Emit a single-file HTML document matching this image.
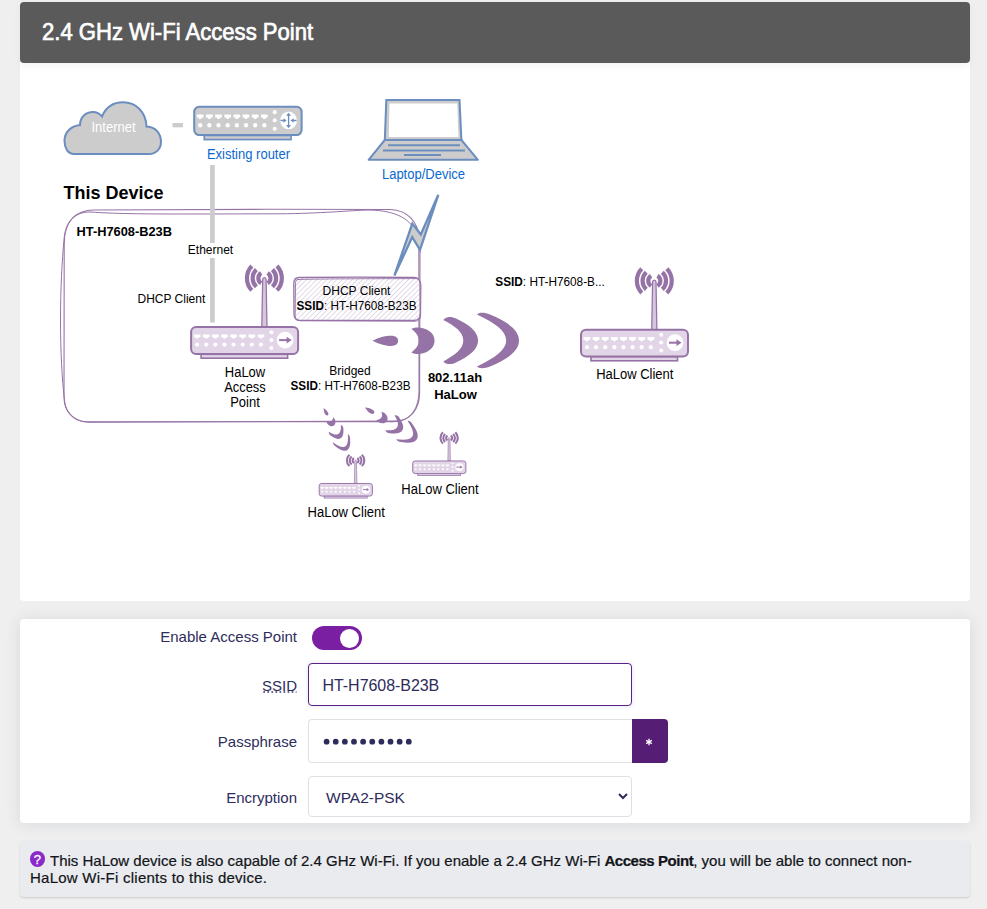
<!DOCTYPE html>
<html><head><meta charset="utf-8">
<style>
html,body{margin:0;padding:0;}
body{width:987px;height:909px;overflow:hidden;background:#efefef;font-family:"Liberation Sans",sans-serif;position:relative;}
.card{position:absolute;left:20px;width:950px;background:#fff;border-radius:4px;}
#c1{top:2px;height:599px;}
#hdr{position:absolute;left:0;top:0;width:950px;height:61px;background:#5a5a5a;border-radius:4px;box-shadow:0 3px 9px rgba(0,0,0,.05);}
#hdr span{position:absolute;left:22px;top:16px;font-size:24px;font-weight:normal;-webkit-text-stroke:0.7px #fff;color:#fff;white-space:nowrap;transform:scaleX(0.92);transform-origin:0 0;}
#c2{top:619px;height:204px;box-shadow:0 1px 16px rgba(40,50,90,.11);}
.lbl{position:absolute;right:673px;font-size:15px;color:#2d2c5b;white-space:nowrap;}
.inp{position:absolute;left:288px;width:324px;background:#fff;border:1px solid #dde1e6;border-radius:4px;box-sizing:border-box;}
.val{position:absolute;font-size:15px;color:#2d2c5b;white-space:nowrap;}
#info{position:absolute;left:20px;top:841px;width:950px;height:56px;background:#e9ebee;border-radius:4px;box-shadow:0 1px 2px rgba(0,0,0,.15);}
#info p{margin:0;position:absolute;left:10px;top:10.7px;width:930px;white-space:nowrap;font-size:15px;line-height:17.7px;color:#121419;text-indent:20px;-webkit-text-stroke:0.2px #121419;}
#info b{letter-spacing:-0.45px;}
#q{position:absolute;left:9.6px;top:10px;width:15.5px;height:16px;border-radius:50%;background:#8a2bc9;color:#fff;font-size:13px;font-weight:normal;-webkit-text-stroke:0.3px #fff;text-align:center;line-height:17px;}
svg text{font-family:"Liberation Sans",sans-serif;}
</style></head><body>
<div class="card" id="c1"><div id="hdr"><span>2.4 GHz Wi-Fi Access Point</span></div></div>

<div class="card" id="c2">
  <div class="lbl" style="top:9px">Enable Access Point</div>
  <div style="position:absolute;left:292px;top:7px;width:50px;height:24px;border-radius:12px;background:#7a1fa2;"></div>
  <div style="position:absolute;left:319.5px;top:9.5px;width:19px;height:19px;border-radius:50%;background:#fff;"></div>

  <div class="lbl" style="top:58px;">SSID</div>
  <svg style="position:absolute;left:243px;top:71px" width="36" height="4"><path d="M0.3,2H33.5" stroke="#3a3966" stroke-width="1.7" stroke-dasharray="1.7 2.35"/></svg>
  <div class="inp" style="top:44px;height:43px;border:1.5px solid #5b2184;box-shadow:0 0 4px rgba(120,130,220,.25);"></div>
  <div class="val" style="left:302.5px;top:57.5px;font-size:16px;letter-spacing:-0.05px;">HT-H7608-B23B</div>

  <div class="lbl" style="top:114px">Passphrase</div>
  <div class="inp" style="top:100px;height:44px;width:325px;border-radius:4px 0 0 4px;border-right:none;"></div>
  <div style="position:absolute;left:612px;top:100px;width:36px;height:44px;background:#561d75;border-radius:0 4px 4px 0;"><svg style="position:absolute;left:13px;top:19.2px" width="8" height="8"><path d="M4,0.8V7.2M1.2,2.4L6.8,5.6M1.2,5.6L6.8,2.4" stroke="#fff" stroke-width="1.3"/></svg></div>
  <svg style="position:absolute;left:300px;top:115px" width="100" height="16"><circle cx="6.60" cy="7.7" r="2.9" fill="#2d2c5b"/><circle cx="15.73" cy="7.7" r="2.9" fill="#2d2c5b"/><circle cx="24.86" cy="7.7" r="2.9" fill="#2d2c5b"/><circle cx="33.99" cy="7.7" r="2.9" fill="#2d2c5b"/><circle cx="43.12" cy="7.7" r="2.9" fill="#2d2c5b"/><circle cx="52.25" cy="7.7" r="2.9" fill="#2d2c5b"/><circle cx="61.38" cy="7.7" r="2.9" fill="#2d2c5b"/><circle cx="70.51" cy="7.7" r="2.9" fill="#2d2c5b"/><circle cx="79.64" cy="7.7" r="2.9" fill="#2d2c5b"/><circle cx="88.77" cy="7.7" r="2.9" fill="#2d2c5b"/></svg>

  <div class="lbl" style="top:170px">Encryption</div>
  <div class="inp" style="top:157px;height:41px;"></div>
  <div class="val" style="left:306px;top:169.5px;font-size:15.5px;">WPA2-PSK</div>
  <svg style="position:absolute;left:597px;top:171.5px" width="12" height="10"><path d="M2,3 L6,7 L10,3" fill="none" stroke="#2d2c5b" stroke-width="2"/></svg>
</div>

<div id="info"><span id="q">?</span><p>This HaLow device is also capable of 2.4 GHz Wi-Fi. If you enable a 2.4 GHz Wi-Fi <b>Access Point</b>, you will be able to connect non-<br><span style="letter-spacing:0.25px">HaLow Wi-Fi clients to this device.</span></p></div>

<!-- DIAGRAM -->
<svg id="dg" style="position:absolute;left:0;top:0" width="987" height="600" viewBox="0 0 987 600">
<path d="M74,154 C68,154 64.5,148 64.5,141 C64.5,132 71,126 80,125 C80,117 86,112 93,112 C97,112 100,114 102,116.5 C106,107 114,102.3 123,102.3 C136,102.3 146,112 146.5,126.5 C156,127 161,134 161,142 C161,149 156,154 149,154 Z" fill="#cccccc" stroke="#6c8ebf" stroke-width="2"/><text x="113.5" y="132" font-size="14" fill="#fff" text-anchor="middle" textLength="44.1" lengthAdjust="spacingAndGlyphs">Internet</text><rect x="172.5" y="123" width="10.5" height="4.3" fill="#cccccc"/><g transform="translate(193.2,105.7) scale(1.004,1.055)"><rect x="1" y="1" width="107" height="26.8" rx="5" fill="#cccccc" stroke="#6c8ebf" stroke-width="2"/><rect x="11" y="28.2" width="86.5" height="3.9" fill="#cccccc" stroke="#6c8ebf" stroke-width="1.6"/><path d="M3.60,8.3h6.7v2.9h-1.7l-0.6,1.3h-2.1l-0.6,-1.3h-1.7z" fill="#fff"/><circle cx="6.95" cy="18.5" r="2.1" fill="#fff"/><path d="M12.73,8.3h6.7v2.9h-1.7l-0.6,1.3h-2.1l-0.6,-1.3h-1.7z" fill="#fff"/><circle cx="16.08" cy="18.5" r="2.1" fill="#fff"/><path d="M21.86,8.3h6.7v2.9h-1.7l-0.6,1.3h-2.1l-0.6,-1.3h-1.7z" fill="#fff"/><circle cx="25.21" cy="18.5" r="2.1" fill="#fff"/><path d="M30.99,8.3h6.7v2.9h-1.7l-0.6,1.3h-2.1l-0.6,-1.3h-1.7z" fill="#fff"/><circle cx="34.34" cy="18.5" r="2.1" fill="#fff"/><path d="M40.12,8.3h6.7v2.9h-1.7l-0.6,1.3h-2.1l-0.6,-1.3h-1.7z" fill="#fff"/><circle cx="43.47" cy="18.5" r="2.1" fill="#fff"/><path d="M49.25,8.3h6.7v2.9h-1.7l-0.6,1.3h-2.1l-0.6,-1.3h-1.7z" fill="#fff"/><circle cx="52.60" cy="18.5" r="2.1" fill="#fff"/><path d="M58.38,8.3h6.7v2.9h-1.7l-0.6,1.3h-2.1l-0.6,-1.3h-1.7z" fill="#fff"/><circle cx="61.73" cy="18.5" r="2.1" fill="#fff"/><path d="M67.51,8.3h6.7v2.9h-1.7l-0.6,1.3h-2.1l-0.6,-1.3h-1.7z" fill="#fff"/><circle cx="70.86" cy="18.5" r="2.1" fill="#fff"/><circle cx="81.2" cy="6.1" r="2" fill="#fff"/><circle cx="81.2" cy="13.9" r="2" fill="#fff"/><circle cx="81.2" cy="21.9" r="2" fill="#fff"/><circle cx="95" cy="14" r="8.4" fill="#fff"/><path d="M95,8.5V19.5" stroke="#6c8ebf" stroke-width="1.3"/><path d="M92.6,9.6L95,6.6L97.4,9.6zM92.6,18.4L95,21.4L97.4,18.4z" fill="#6c8ebf"/><path d="M87,14H91M99,14H103" stroke="#6c8ebf" stroke-width="1.3"/><path d="M90,11.8L93,14L90,16.2zM100,11.8L97,14L100,16.2z" fill="#6c8ebf"/></g><text x="248.5" y="158.7" font-size="14" fill="#0b68cf" text-anchor="middle" textLength="83.1" lengthAdjust="spacingAndGlyphs">Existing router</text><path d="M386.3,100H459.5L461.4,140H384.8Z" fill="#cccccc" stroke="#6c8ebf" stroke-width="2"/><path d="M389.5,103.5H457.3L458.5,137H388.8Z" fill="#fff"/><path d="M384.8,140H461.4L477.9,159.8H368.6Z" fill="#cccccc" stroke="#6c8ebf" stroke-width="2" stroke-linejoin="round"/><path d="M388,145.3H460M383,150.6H465M404,155H441" stroke="#6c8ebf" stroke-width="2"/><text x="423.5" y="178.6" font-size="14" fill="#0b68cf" text-anchor="middle" textLength="83.1" lengthAdjust="spacingAndGlyphs">Laptop/Device</text><text x="210.5" y="253.8" font-size="12" fill="#000" text-anchor="middle">Ethernet</text><text x="63.5" y="198.5" font-size="18" font-weight="bold" fill="#000">This Device</text><path d="M94,210 C150,209.5 300,209 390,209.5 C408,210 418,222 420,240 L419.6,392 C419.6,410 410,421.5 394,421.6 L87,421.8 C72,421.5 64,410 64,397 L64.2,244 C64.2,222 75,210 94,210Z" fill="none" stroke="#9673a6" stroke-width="1.1"/><path d="M90,212 C120,214 150,214 200,214 L280,213.8 C320,213.5 350,210.5 369,210 C395,210.5 412,218 418.8,238 L419,390 C419,408 411,420.5 396,421 L89,422.3 C74,422 65,412 64.5,400 C62,380 60.5,350 60.5,320 C60.5,290 62,260 64,240 C65,222 74,212 90,212Z" fill="none" stroke="#9673a6" stroke-width="1"/><path d="M212.4,165V243M212.4,258V322.6" stroke="#cccccc" stroke-width="4.7"/><text x="76.5" y="235.6" font-size="13.6" font-weight="bold" fill="#000" textLength="95.5" lengthAdjust="spacingAndGlyphs">HT-H7608-B23B</text><text x="137.5" y="302.5" font-size="12" fill="#000">DHCP Client</text><defs><pattern id="hatch" patternUnits="userSpaceOnUse" width="3.6" height="3.6" patternTransform="rotate(45)"><rect width="3.6" height="3.6" fill="#fff"/><path d="M0.5,0V3.6" stroke="#e0d5e6" stroke-width="0.9"/></pattern></defs><path d="M299,277.5 C340,277 390,277.2 414,277.5 C419,277.8 420,280 420,284 L420.2,314 C420,319 418,320.5 414,320.4 L300,320.4 C296,320.5 294,318 294,314 L293.8,283 C294,279 296,277.5 299,277.5Z" fill="url(#hatch)" stroke="#9673a6" stroke-width="1.3"/><path d="M297,279.5 C340,278.5 390,278.8 416,278.6 C419.5,279 421,282 421,286 L420.6,316 C420.5,319.5 418,321.5 414,321.3 L300,320.8 C296.5,320.6 295,318 295.2,314 L295.5,284 C295.5,281 296,279.5 299,279.5" fill="none" stroke="#9673a6" stroke-width="0.9"/><text x="356.5" y="294.5" font-size="12" fill="#000" text-anchor="middle">DHCP Client</text><text x="296.5" y="309.8" font-size="12" fill="#000" textLength="120" lengthAdjust="spacingAndGlyphs"><tspan font-weight="bold">SSID</tspan>: HT-H7608-B23B</text><path d="M438.3,194.8L420,249.8L412.2,237.2L394.4,275.6L412.3,223.6L420.8,234.5Z" fill="#cccccc" stroke="#6c8ebf" stroke-width="2.3" stroke-linejoin="miter"/><g transform="translate(190.1,326.1)"><path d="M72.6,-46.6C72.6,-49.2 76,-49.2 76,-46.6L76.9,0.8H71.7Z" fill="#d6c6de" stroke="#9673a6" stroke-width="1.25"/><path d="M61.75,-60.02A17.45,17.45 0 0 0 61.75,-35.78" fill="none" stroke="#9673a6" stroke-width="4.2"/><path d="M86.85,-60.02A17.45,17.45 0 0 1 86.85,-35.78" fill="none" stroke="#9673a6" stroke-width="4.2"/><path d="M66.29,-56.49A11.75,11.75 0 0 0 66.29,-39.31" fill="none" stroke="#9673a6" stroke-width="4.2"/><path d="M82.31,-56.49A11.75,11.75 0 0 1 82.31,-39.31" fill="none" stroke="#9673a6" stroke-width="4.2"/><path d="M71.09,-53.03A6.05,6.05 0 0 0 71.09,-42.77" fill="none" stroke="#9673a6" stroke-width="4.2"/><path d="M77.51,-53.03A6.05,6.05 0 0 1 77.51,-42.77" fill="none" stroke="#9673a6" stroke-width="4.2"/><rect x="1" y="1" width="107" height="26.8" rx="5" fill="#e1d5e7" stroke="#9673a6" stroke-width="2"/><rect x="11" y="28.2" width="86.5" height="3.9" fill="#e1d5e7" stroke="#9673a6" stroke-width="1.6"/><path d="M3.60,8.3h6.7v2.9h-1.7l-0.6,1.3h-2.1l-0.6,-1.3h-1.7z" fill="#fff"/><circle cx="6.95" cy="18.5" r="2.1" fill="#fff"/><path d="M12.73,8.3h6.7v2.9h-1.7l-0.6,1.3h-2.1l-0.6,-1.3h-1.7z" fill="#fff"/><circle cx="16.08" cy="18.5" r="2.1" fill="#fff"/><path d="M21.86,8.3h6.7v2.9h-1.7l-0.6,1.3h-2.1l-0.6,-1.3h-1.7z" fill="#fff"/><circle cx="25.21" cy="18.5" r="2.1" fill="#fff"/><path d="M30.99,8.3h6.7v2.9h-1.7l-0.6,1.3h-2.1l-0.6,-1.3h-1.7z" fill="#fff"/><circle cx="34.34" cy="18.5" r="2.1" fill="#fff"/><path d="M40.12,8.3h6.7v2.9h-1.7l-0.6,1.3h-2.1l-0.6,-1.3h-1.7z" fill="#fff"/><circle cx="43.47" cy="18.5" r="2.1" fill="#fff"/><path d="M49.25,8.3h6.7v2.9h-1.7l-0.6,1.3h-2.1l-0.6,-1.3h-1.7z" fill="#fff"/><circle cx="52.60" cy="18.5" r="2.1" fill="#fff"/><path d="M58.38,8.3h6.7v2.9h-1.7l-0.6,1.3h-2.1l-0.6,-1.3h-1.7z" fill="#fff"/><circle cx="61.73" cy="18.5" r="2.1" fill="#fff"/><path d="M67.51,8.3h6.7v2.9h-1.7l-0.6,1.3h-2.1l-0.6,-1.3h-1.7z" fill="#fff"/><circle cx="70.86" cy="18.5" r="2.1" fill="#fff"/><circle cx="81.2" cy="6.1" r="2" fill="#fff"/><circle cx="81.2" cy="13.9" r="2" fill="#fff"/><circle cx="81.2" cy="21.9" r="2" fill="#fff"/><circle cx="95" cy="14" r="8.4" fill="#fff"/><path d="M89,14H97.5" stroke="#9673a6" stroke-width="2"/><path d="M96.5,10.6L101.5,14L96.5,17.4z" fill="#9673a6"/></g><text font-size="14" fill="#000" text-anchor="middle"><tspan x="245" y="376.5" textLength="40.5" lengthAdjust="spacingAndGlyphs">HaLow</tspan><tspan x="245" y="391.8" textLength="41.5" lengthAdjust="spacingAndGlyphs">Access</tspan><tspan x="245" y="407.2" textLength="29.6" lengthAdjust="spacingAndGlyphs">Point</tspan></text><text x="350" y="374.6" font-size="12" fill="#000" text-anchor="middle">Bridged</text><text x="290.5" y="389.8" font-size="12" fill="#000" textLength="120" lengthAdjust="spacingAndGlyphs"><tspan font-weight="bold">SSID</tspan>: HT-H7608-B23B</text><g transform="translate(372.5,340.7)"><g transform="translate(-372.5,-340.7)" fill="#9673a6"><path d="M372.5,340.7C380,337 386,335.8 391,335.8C396,335.8 398.1,338 398.1,340.7C398.1,343.5 396,345.9 391,345.9C386,345.9 380,344.5 372.5,340.7Z"/><path d="M411.4,328.9C420,325 434.6,330 434.6,340.7C434.6,351 420,357 411.4,352.4C417,348 418.9,344 418.9,340.7C418.9,337 417,333 411.4,328.9Z"/><path d="M443.3,320C446,316 452,316.5 456,318.5C470,325 478.1,332 478.1,340.6C478.1,349 470,356 456,362.5C452,364.5 446,365 443.3,361.5C455,355 463.3,349 463.3,340.6C463.3,332 455,326 443.3,320Z"/><path d="M477,314.6C479,312 485,312.5 490,314.5C508,322 519,330 519,340.6C519,351 508,359 490,366.5C485,368.5 479,369 477,366.5C495,358 506.2,350 506.2,340.6C506.2,331 495,323 477,314.6Z"/></g></g><text font-size="13" font-weight="bold" fill="#000" text-anchor="middle"><tspan x="455" y="382">802.11ah</tspan><tspan x="455.5" y="398.6">HaLow</tspan></text><text x="495.3" y="286" font-size="12" fill="#000" textLength="109.5" lengthAdjust="spacingAndGlyphs"><tspan font-weight="bold">SSID</tspan>: HT-H7608-B...</text><g transform="translate(580,328.7)"><path d="M72.6,-46.6C72.6,-49.2 76,-49.2 76,-46.6L76.9,0.8H71.7Z" fill="#d6c6de" stroke="#9673a6" stroke-width="1.25"/><path d="M61.75,-60.02A17.45,17.45 0 0 0 61.75,-35.78" fill="none" stroke="#9673a6" stroke-width="4.2"/><path d="M86.85,-60.02A17.45,17.45 0 0 1 86.85,-35.78" fill="none" stroke="#9673a6" stroke-width="4.2"/><path d="M66.29,-56.49A11.75,11.75 0 0 0 66.29,-39.31" fill="none" stroke="#9673a6" stroke-width="4.2"/><path d="M82.31,-56.49A11.75,11.75 0 0 1 82.31,-39.31" fill="none" stroke="#9673a6" stroke-width="4.2"/><path d="M71.09,-53.03A6.05,6.05 0 0 0 71.09,-42.77" fill="none" stroke="#9673a6" stroke-width="4.2"/><path d="M77.51,-53.03A6.05,6.05 0 0 1 77.51,-42.77" fill="none" stroke="#9673a6" stroke-width="4.2"/><rect x="1" y="1" width="107" height="26.8" rx="5" fill="#e1d5e7" stroke="#9673a6" stroke-width="2"/><rect x="11" y="28.2" width="86.5" height="3.9" fill="#e1d5e7" stroke="#9673a6" stroke-width="1.6"/><path d="M3.60,8.3h6.7v2.9h-1.7l-0.6,1.3h-2.1l-0.6,-1.3h-1.7z" fill="#fff"/><circle cx="6.95" cy="18.5" r="2.1" fill="#fff"/><path d="M12.73,8.3h6.7v2.9h-1.7l-0.6,1.3h-2.1l-0.6,-1.3h-1.7z" fill="#fff"/><circle cx="16.08" cy="18.5" r="2.1" fill="#fff"/><path d="M21.86,8.3h6.7v2.9h-1.7l-0.6,1.3h-2.1l-0.6,-1.3h-1.7z" fill="#fff"/><circle cx="25.21" cy="18.5" r="2.1" fill="#fff"/><path d="M30.99,8.3h6.7v2.9h-1.7l-0.6,1.3h-2.1l-0.6,-1.3h-1.7z" fill="#fff"/><circle cx="34.34" cy="18.5" r="2.1" fill="#fff"/><path d="M40.12,8.3h6.7v2.9h-1.7l-0.6,1.3h-2.1l-0.6,-1.3h-1.7z" fill="#fff"/><circle cx="43.47" cy="18.5" r="2.1" fill="#fff"/><path d="M49.25,8.3h6.7v2.9h-1.7l-0.6,1.3h-2.1l-0.6,-1.3h-1.7z" fill="#fff"/><circle cx="52.60" cy="18.5" r="2.1" fill="#fff"/><path d="M58.38,8.3h6.7v2.9h-1.7l-0.6,1.3h-2.1l-0.6,-1.3h-1.7z" fill="#fff"/><circle cx="61.73" cy="18.5" r="2.1" fill="#fff"/><path d="M67.51,8.3h6.7v2.9h-1.7l-0.6,1.3h-2.1l-0.6,-1.3h-1.7z" fill="#fff"/><circle cx="70.86" cy="18.5" r="2.1" fill="#fff"/><circle cx="81.2" cy="6.1" r="2" fill="#fff"/><circle cx="81.2" cy="13.9" r="2" fill="#fff"/><circle cx="81.2" cy="21.9" r="2" fill="#fff"/><circle cx="95" cy="14" r="8.4" fill="#fff"/><path d="M89,14H97.5" stroke="#9673a6" stroke-width="2"/><path d="M96.5,10.6L101.5,14L96.5,17.4z" fill="#9673a6"/></g><text x="634.8" y="378.7" font-size="14" fill="#000" text-anchor="middle" textLength="77.3" lengthAdjust="spacingAndGlyphs">HaLow Client</text><g transform="translate(365,407.5) rotate(31.5) scale(0.415)"><g transform="translate(-372.5,-340.7)" fill="#9673a6"><path d="M372.5,340.7C380,337 386,335.8 391,335.8C396,335.8 398.1,338 398.1,340.7C398.1,343.5 396,345.9 391,345.9C386,345.9 380,344.5 372.5,340.7Z"/><path d="M411.4,328.9C420,325 434.6,330 434.6,340.7C434.6,351 420,357 411.4,352.4C417,348 418.9,344 418.9,340.7C418.9,337 417,333 411.4,328.9Z"/><path d="M443.3,320C446,316 452,316.5 456,318.5C470,325 478.1,332 478.1,340.6C478.1,349 470,356 456,362.5C452,364.5 446,365 443.3,361.5C455,355 463.3,349 463.3,340.6C463.3,332 455,326 443.3,320Z"/><path d="M477,314.6C479,312 485,312.5 490,314.5C508,322 519,330 519,340.6C519,351 508,359 490,366.5C485,368.5 479,369 477,366.5C495,358 506.2,350 506.2,340.6C506.2,331 495,323 477,314.6Z"/></g></g><g transform="translate(323.6,407.9) rotate(61) scale(0.33)"><g transform="translate(-372.5,-340.7)" fill="#9673a6"><path d="M372.5,340.7C380,337 386,335.8 391,335.8C396,335.8 398.1,338 398.1,340.7C398.1,343.5 396,345.9 391,345.9C386,345.9 380,344.5 372.5,340.7Z"/><path d="M411.4,328.9C420,325 434.6,330 434.6,340.7C434.6,351 420,357 411.4,352.4C417,348 418.9,344 418.9,340.7C418.9,337 417,333 411.4,328.9Z"/><path d="M443.3,320C446,316 452,316.5 456,318.5C470,325 478.1,332 478.1,340.6C478.1,349 470,356 456,362.5C452,364.5 446,365 443.3,361.5C455,355 463.3,349 463.3,340.6C463.3,332 455,326 443.3,320Z"/><path d="M477,314.6C479,312 485,312.5 490,314.5C508,322 519,330 519,340.6C519,351 508,359 490,366.5C485,368.5 479,369 477,366.5C495,358 506.2,350 506.2,340.6C506.2,331 495,323 477,314.6Z"/></g></g><g transform="translate(318.7,483) scale(0.497,0.47)"><path d="M72.6,-46.6C72.6,-49.2 76,-49.2 76,-46.6L76.9,0.8H71.7Z" fill="#d6c6de" stroke="#9673a6" stroke-width="1.25"/><path d="M61.75,-60.02A17.45,17.45 0 0 0 61.75,-35.78" fill="none" stroke="#9673a6" stroke-width="4.2"/><path d="M86.85,-60.02A17.45,17.45 0 0 1 86.85,-35.78" fill="none" stroke="#9673a6" stroke-width="4.2"/><path d="M66.29,-56.49A11.75,11.75 0 0 0 66.29,-39.31" fill="none" stroke="#9673a6" stroke-width="4.2"/><path d="M82.31,-56.49A11.75,11.75 0 0 1 82.31,-39.31" fill="none" stroke="#9673a6" stroke-width="4.2"/><path d="M71.09,-53.03A6.05,6.05 0 0 0 71.09,-42.77" fill="none" stroke="#9673a6" stroke-width="4.2"/><path d="M77.51,-53.03A6.05,6.05 0 0 1 77.51,-42.77" fill="none" stroke="#9673a6" stroke-width="4.2"/><rect x="1" y="1" width="107" height="26.8" rx="5" fill="#e1d5e7" stroke="#9673a6" stroke-width="2"/><rect x="11" y="28.2" width="86.5" height="3.9" fill="#e1d5e7" stroke="#9673a6" stroke-width="1.6"/><path d="M3.60,8.3h6.7v2.9h-1.7l-0.6,1.3h-2.1l-0.6,-1.3h-1.7z" fill="#fff"/><circle cx="6.95" cy="18.5" r="2.1" fill="#fff"/><path d="M12.73,8.3h6.7v2.9h-1.7l-0.6,1.3h-2.1l-0.6,-1.3h-1.7z" fill="#fff"/><circle cx="16.08" cy="18.5" r="2.1" fill="#fff"/><path d="M21.86,8.3h6.7v2.9h-1.7l-0.6,1.3h-2.1l-0.6,-1.3h-1.7z" fill="#fff"/><circle cx="25.21" cy="18.5" r="2.1" fill="#fff"/><path d="M30.99,8.3h6.7v2.9h-1.7l-0.6,1.3h-2.1l-0.6,-1.3h-1.7z" fill="#fff"/><circle cx="34.34" cy="18.5" r="2.1" fill="#fff"/><path d="M40.12,8.3h6.7v2.9h-1.7l-0.6,1.3h-2.1l-0.6,-1.3h-1.7z" fill="#fff"/><circle cx="43.47" cy="18.5" r="2.1" fill="#fff"/><path d="M49.25,8.3h6.7v2.9h-1.7l-0.6,1.3h-2.1l-0.6,-1.3h-1.7z" fill="#fff"/><circle cx="52.60" cy="18.5" r="2.1" fill="#fff"/><path d="M58.38,8.3h6.7v2.9h-1.7l-0.6,1.3h-2.1l-0.6,-1.3h-1.7z" fill="#fff"/><circle cx="61.73" cy="18.5" r="2.1" fill="#fff"/><path d="M67.51,8.3h6.7v2.9h-1.7l-0.6,1.3h-2.1l-0.6,-1.3h-1.7z" fill="#fff"/><circle cx="70.86" cy="18.5" r="2.1" fill="#fff"/><circle cx="81.2" cy="6.1" r="2" fill="#fff"/><circle cx="81.2" cy="13.9" r="2" fill="#fff"/><circle cx="81.2" cy="21.9" r="2" fill="#fff"/><circle cx="95" cy="14" r="8.4" fill="#fff"/><path d="M89,14H97.5" stroke="#9673a6" stroke-width="2"/><path d="M96.5,10.6L101.5,14L96.5,17.4z" fill="#9673a6"/></g><text x="346.2" y="517" font-size="14" fill="#000" text-anchor="middle" textLength="77.3" lengthAdjust="spacingAndGlyphs">HaLow Client</text><g transform="translate(412.2,460.5) scale(0.497,0.47)"><path d="M72.6,-46.6C72.6,-49.2 76,-49.2 76,-46.6L76.9,0.8H71.7Z" fill="#d6c6de" stroke="#9673a6" stroke-width="1.25"/><path d="M61.75,-60.02A17.45,17.45 0 0 0 61.75,-35.78" fill="none" stroke="#9673a6" stroke-width="4.2"/><path d="M86.85,-60.02A17.45,17.45 0 0 1 86.85,-35.78" fill="none" stroke="#9673a6" stroke-width="4.2"/><path d="M66.29,-56.49A11.75,11.75 0 0 0 66.29,-39.31" fill="none" stroke="#9673a6" stroke-width="4.2"/><path d="M82.31,-56.49A11.75,11.75 0 0 1 82.31,-39.31" fill="none" stroke="#9673a6" stroke-width="4.2"/><path d="M71.09,-53.03A6.05,6.05 0 0 0 71.09,-42.77" fill="none" stroke="#9673a6" stroke-width="4.2"/><path d="M77.51,-53.03A6.05,6.05 0 0 1 77.51,-42.77" fill="none" stroke="#9673a6" stroke-width="4.2"/><rect x="1" y="1" width="107" height="26.8" rx="5" fill="#e1d5e7" stroke="#9673a6" stroke-width="2"/><rect x="11" y="28.2" width="86.5" height="3.9" fill="#e1d5e7" stroke="#9673a6" stroke-width="1.6"/><path d="M3.60,8.3h6.7v2.9h-1.7l-0.6,1.3h-2.1l-0.6,-1.3h-1.7z" fill="#fff"/><circle cx="6.95" cy="18.5" r="2.1" fill="#fff"/><path d="M12.73,8.3h6.7v2.9h-1.7l-0.6,1.3h-2.1l-0.6,-1.3h-1.7z" fill="#fff"/><circle cx="16.08" cy="18.5" r="2.1" fill="#fff"/><path d="M21.86,8.3h6.7v2.9h-1.7l-0.6,1.3h-2.1l-0.6,-1.3h-1.7z" fill="#fff"/><circle cx="25.21" cy="18.5" r="2.1" fill="#fff"/><path d="M30.99,8.3h6.7v2.9h-1.7l-0.6,1.3h-2.1l-0.6,-1.3h-1.7z" fill="#fff"/><circle cx="34.34" cy="18.5" r="2.1" fill="#fff"/><path d="M40.12,8.3h6.7v2.9h-1.7l-0.6,1.3h-2.1l-0.6,-1.3h-1.7z" fill="#fff"/><circle cx="43.47" cy="18.5" r="2.1" fill="#fff"/><path d="M49.25,8.3h6.7v2.9h-1.7l-0.6,1.3h-2.1l-0.6,-1.3h-1.7z" fill="#fff"/><circle cx="52.60" cy="18.5" r="2.1" fill="#fff"/><path d="M58.38,8.3h6.7v2.9h-1.7l-0.6,1.3h-2.1l-0.6,-1.3h-1.7z" fill="#fff"/><circle cx="61.73" cy="18.5" r="2.1" fill="#fff"/><path d="M67.51,8.3h6.7v2.9h-1.7l-0.6,1.3h-2.1l-0.6,-1.3h-1.7z" fill="#fff"/><circle cx="70.86" cy="18.5" r="2.1" fill="#fff"/><circle cx="81.2" cy="6.1" r="2" fill="#fff"/><circle cx="81.2" cy="13.9" r="2" fill="#fff"/><circle cx="81.2" cy="21.9" r="2" fill="#fff"/><circle cx="95" cy="14" r="8.4" fill="#fff"/><path d="M89,14H97.5" stroke="#9673a6" stroke-width="2"/><path d="M96.5,10.6L101.5,14L96.5,17.4z" fill="#9673a6"/></g><text x="440" y="493.9" font-size="14" fill="#000" text-anchor="middle" textLength="77.3" lengthAdjust="spacingAndGlyphs">HaLow Client</text>
</svg>
</body></html>
